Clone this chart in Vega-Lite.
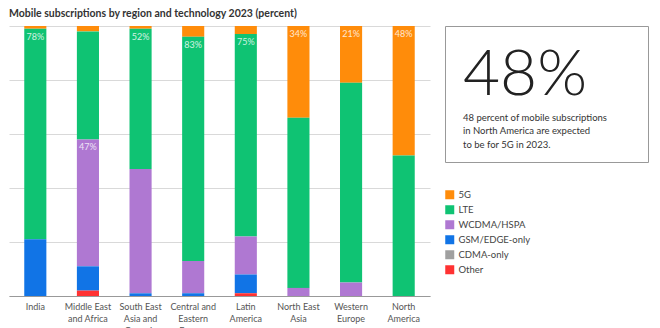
{
  "$schema": "https://vega.github.io/schema/vega-lite/v6.json",
  "padding": {"left": 9, "top": 9, "right": 0, "bottom": 0},
  "background": "white",
  "bounds": "flush",
  "spacing": 15,
  "title": {"text": "Mobile subscriptions by region and technology 2023 (percent)", "anchor": "start", "fontSize": 10.5, "font": "Lato", "fontWeight": "bold", "color": "#333333", "offset": 6},
  "config": {"font": "Lato", "view": {"stroke": null}},
  "hconcat": [
    {
      "width": 421,
      "height": 270,
      "data": {"values": [
        {"region": "India", "tech": "5G", "value": 1, "ord": 6, "lbl": ""},
        {"region": "India", "tech": "LTE", "value": 78, "ord": 5, "lbl": "78%"},
        {"region": "India", "tech": "GSM/EDGE-only", "value": 21, "ord": 3, "lbl": ""},
        {"region": "Middle East|and Africa", "tech": "5G", "value": 2, "ord": 6, "lbl": ""},
        {"region": "Middle East|and Africa", "tech": "LTE", "value": 40, "ord": 5, "lbl": ""},
        {"region": "Middle East|and Africa", "tech": "WCDMA/HSPA", "value": 47, "ord": 4, "lbl": "47%"},
        {"region": "Middle East|and Africa", "tech": "GSM/EDGE-only", "value": 9, "ord": 3, "lbl": ""},
        {"region": "Middle East|and Africa", "tech": "Other", "value": 2, "ord": 1, "lbl": ""},
        {"region": "South East|Asia and|Oceania", "tech": "5G", "value": 1, "ord": 6, "lbl": ""},
        {"region": "South East|Asia and|Oceania", "tech": "LTE", "value": 52, "ord": 5, "lbl": "52%"},
        {"region": "South East|Asia and|Oceania", "tech": "WCDMA/HSPA", "value": 46, "ord": 4, "lbl": ""},
        {"region": "South East|Asia and|Oceania", "tech": "GSM/EDGE-only", "value": 1, "ord": 3, "lbl": ""},
        {"region": "Central and|Eastern|Europe", "tech": "5G", "value": 4, "ord": 6, "lbl": ""},
        {"region": "Central and|Eastern|Europe", "tech": "LTE", "value": 83, "ord": 5, "lbl": "83%"},
        {"region": "Central and|Eastern|Europe", "tech": "WCDMA/HSPA", "value": 12, "ord": 4, "lbl": ""},
        {"region": "Central and|Eastern|Europe", "tech": "GSM/EDGE-only", "value": 1, "ord": 3, "lbl": ""},
        {"region": "Latin|America", "tech": "5G", "value": 3, "ord": 6, "lbl": ""},
        {"region": "Latin|America", "tech": "LTE", "value": 75, "ord": 5, "lbl": "75%"},
        {"region": "Latin|America", "tech": "WCDMA/HSPA", "value": 14, "ord": 4, "lbl": ""},
        {"region": "Latin|America", "tech": "GSM/EDGE-only", "value": 7, "ord": 3, "lbl": ""},
        {"region": "Latin|America", "tech": "Other", "value": 1, "ord": 1, "lbl": ""},
        {"region": "North East|Asia", "tech": "5G", "value": 34, "ord": 6, "lbl": "34%"},
        {"region": "North East|Asia", "tech": "LTE", "value": 63, "ord": 5, "lbl": ""},
        {"region": "North East|Asia", "tech": "WCDMA/HSPA", "value": 3, "ord": 4, "lbl": ""},
        {"region": "Western|Europe", "tech": "5G", "value": 21, "ord": 6, "lbl": "21%"},
        {"region": "Western|Europe", "tech": "LTE", "value": 74, "ord": 5, "lbl": ""},
        {"region": "Western|Europe", "tech": "WCDMA/HSPA", "value": 5, "ord": 4, "lbl": ""},
        {"region": "North|America", "tech": "5G", "value": 48, "ord": 6, "lbl": "48%"},
        {"region": "North|America", "tech": "LTE", "value": 52, "ord": 5, "lbl": ""}
      ]},
      "encoding": {
        "x": {
          "field": "region", "type": "nominal", "sort": null,
          "scale": {"paddingInner": 0.58, "paddingOuter": 0.29},
          "axis": {"title": null, "labelAngle": 0, "labelExpr": "split(datum.value, '|')", "labelFontSize": 9, "labelColor": "#555555", "labelLineHeight": 12, "labelPadding": 6, "ticks": false, "domainColor": "#999999", "labelBaseline": "top"}
        },
        "y": {
          "field": "value", "type": "quantitative", "stack": "zero",
          "scale": {"domain": [0, 100], "nice": false},
          "axis": {"values": [0, 20, 40, 60, 80, 100], "labels": false, "ticks": false, "domain": false, "title": null, "grid": true, "gridColor": "#d9d9d9"}
        },
        "order": {"field": "ord", "type": "quantitative"}
      },
      "layer": [
        {
          "mark": {"type": "bar"},
          "encoding": {
            "color": {
              "field": "tech", "type": "nominal",
              "scale": {"domain": ["5G", "LTE", "WCDMA/HSPA", "GSM/EDGE-only", "CDMA-only", "Other"], "range": ["#FF8C0A", "#0FC373", "#AF78D2", "#1174E6", "#A0A0A0", "#FF3232"]},
              "legend": {"orient": "none", "legendX": 436, "legendY": 164, "title": null, "symbolType": "square", "symbolSize": 81, "labelFontSize": 9.5, "labelColor": "#444444", "rowPadding": 4, "labelOffset": 4, "symbolStrokeWidth": 0}
            }
          }
        },
        {
          "mark": {"type": "text", "baseline": "middle", "dy": 8, "color": "white", "opacity": 0.8, "fontSize": 9},
          "encoding": {"text": {"field": "lbl", "type": "nominal"}}
        }
      ]
    },
    {
      "width": 203,
      "height": 136,
      "view": {"stroke": "#999999", "strokeWidth": 1},
      "title": {
        "text": "48%",
        "subtitle": ["48 percent of mobile subscriptions", "in North America are expected", "to be for 5G in 2023."],
        "anchor": "start", "orient": "top", "frame": "group", "offset": -123, "dx": 18,
        "fontSize": 64, "fontWeight": 300, "font": "Lato", "color": "#222222",
        "subtitleFont": "Lato", "subtitleFontSize": 9.5, "subtitleColor": "#333333", "subtitleLineHeight": 13.5, "subtitlePadding": 5
      },
      "data": {"values": []},
      "mark": {"type": "point"},
      "encoding": {}
    }
  ]
}
